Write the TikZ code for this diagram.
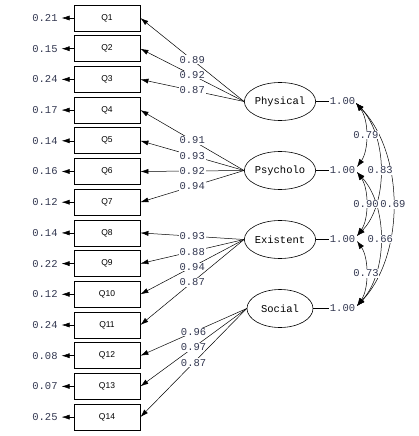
\documentclass[tikz,border=0pt]{standalone}
\usepackage{fontspec}
\setmainfont{Liberation Mono}
\setsansfont{Liberation Sans}
\usetikzlibrary{arrows.meta,shapes.geometric}
\definecolor{numc}{RGB}{50,55,80}
\begin{document}
\begin{tikzpicture}[x=1pt,y=-1pt,
  obs/.style={draw, line width=0.8pt, minimum width=66pt, minimum height=26pt, inner sep=0pt,
    font=\sffamily\fontsize{8.5}{9}\selectfont},
  lat/.style={draw, ellipse, line width=0.6pt, minimum width=66pt, minimum height=38pt, inner sep=0pt,
    font=\fontsize{10.5}{12}\selectfont},
  num/.style={font=\fontsize{10.5}{12}\selectfont, text=numc, inner sep=0.8pt},
  lab/.style={num, fill=white},
  conn/.style={line width=0.5pt},
  arr/.style={conn, -{Latex[length=8pt,width=5pt]}},
  dbl/.style={conn, {Latex[length=8pt,width=5.5pt]}-{Latex[length=8pt,width=5.5pt]}},
]
\useasboundingbox (0,0) rectangle (419,436);
% observed variables and error variances
\foreach \i/\e in {1/0.21,2/0.15,3/0.24,4/0.17,5/0.14,6/0.16,7/0.12,8/0.14,9/0.22,10/0.12,11/0.24,12/0.08,13/0.07,14/0.25}{
  \node[obs] (q\i) at (107,{18+(\i-1)*30.7}) {Q\i};
  \node[num] (e\i) at (45,{18+(\i-1)*30.7}) {\e};
  \draw[arr, shorten >=3pt] (q\i.west) -- (e\i.east);
}
% latent variables
\node[lat] (P) at (280,101.5) {Physical};
\node[lat] (Ps) at (280,170.5) {Psycholo};
\node[lat] (E) at (280,239.5) {Existent};
\node[lat] (S) at (280,308.5) {Social};
% loadings
\draw[arr] (P.west) -- node[lab] {0.89} (q1.east);
\draw[arr] (P.west) -- node[lab] {0.92} (q2.east);
\draw[arr] (P.west) -- node[lab] {0.87} (q3.east);
\draw[arr] (Ps.west) -- node[lab] {0.91} (q4.east);
\draw[arr] (Ps.west) -- node[lab] {0.93} (q5.east);
\draw[arr] (Ps.west) -- node[lab] {0.92} (q6.east);
\draw[arr] (Ps.west) -- node[lab] {0.94} (q7.east);
\draw[arr] (E.west) -- node[lab] {0.93} (q8.east);
\draw[arr] (E.west) -- node[lab] {0.88} (q9.east);
\draw[arr] (E.west) -- node[lab] {0.94} (q10.east);
\draw[arr] (E.west) -- node[lab] {0.87} (q11.east);
\draw[arr] (S.west) -- node[lab] {0.96} (q12.east);
\draw[arr] (S.west) -- node[lab] {0.97} (q13.east);
\draw[arr] (S.west) -- node[lab] {0.87} (q14.east);
% factor variances
\node[num] (v1) at (342.5,101.5) {1.00};
\node[num] (v2) at (342.5,170.5) {1.00};
\node[num] (v3) at (342.5,239.5) {1.00};
\node[num] (v4) at (342.5,308.5) {1.00};
\draw[conn] (P.east) -- (v1.west);
\draw[conn] (Ps.east) -- (v2.west);
\draw[conn] (E.east) -- (v3.west);
\draw[conn] (S.east) -- (v4.west);
% curve end points
\coordinate (a1) at (356,103);
\coordinate (a2u) at (357,167);
\coordinate (a2d) at (357,172);
\coordinate (a3u) at (357,236);
\coordinate (a3d) at (357,241);
\coordinate (a4) at (357,306);
% correlations
\draw[dbl] (a1) .. controls (405,154) and (405,255) .. node[lab] {0.69} (a4);
\draw[dbl] (a1) .. controls (388,137) and (388,204) .. node[lab] {0.83} (a3u);
\draw[dbl] (a2d) .. controls (388,206) and (388,272) .. node[lab] {0.66} (a4);
\draw[dbl] (a1) .. controls (369,120) and (369,150) .. node[lab] {0.79} (a2u);
\draw[dbl] (a2d) .. controls (369,189) and (369,219) .. node[lab] {0.90} (a3u);
\draw[dbl] (a3d) .. controls (369,258) and (369,289) .. node[lab] {0.73} (a4);
\end{tikzpicture}
\end{document}
